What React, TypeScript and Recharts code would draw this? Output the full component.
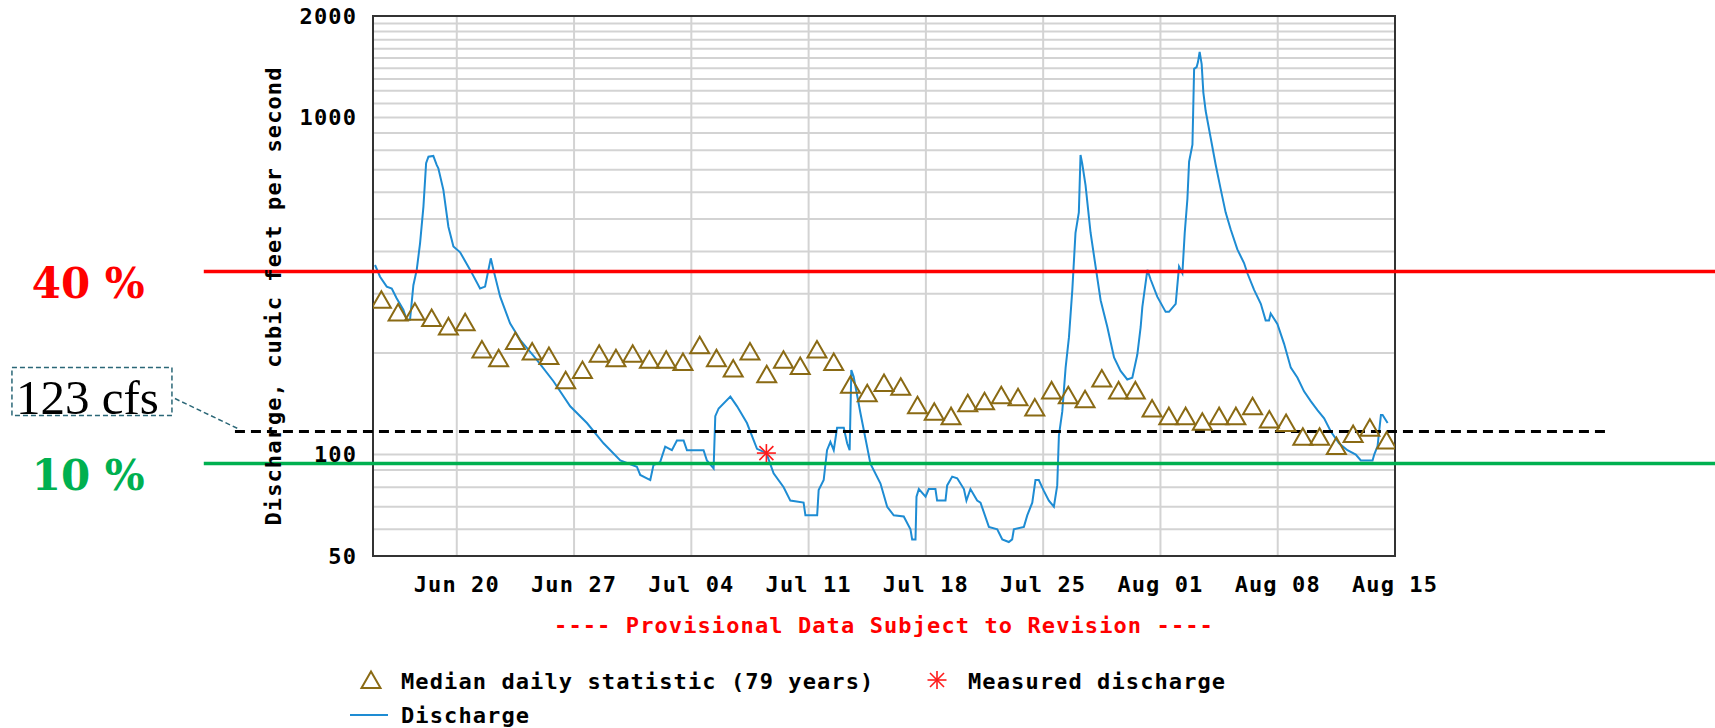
import React from "react";
import {
  ComposedChart,
  Line,
  Scatter,
  XAxis,
  YAxis,
  CartesianGrid,
  ReferenceLine,
  ReferenceArea
} from "recharts";

// x values are days counted from Jun 15, 00:00
const weekTicks = [5, 12, 19, 26, 33, 40, 47, 54, 61];
const weekLabels = ["Jun 20", "Jun 27", "Jul 04", "Jul 11", "Jul 18", "Jul 25", "Aug 01", "Aug 08", "Aug 15"];
const dayTicks = [
  1, 2, 3, 4, 5, 6, 7, 8, 9, 10, 11, 12, 13, 14, 15, 16, 17, 18, 19, 20,
  21, 22, 23, 24, 25, 26, 27, 28, 29, 30, 31, 32, 33, 34, 35, 36, 37, 38, 39, 40,
  41, 42, 43, 44, 45, 46, 47, 48, 49, 50, 51, 52, 53, 54, 55, 56, 57, 58, 59, 60
];

const yTicks = [50, 100, 1000, 2000];
const yGrid = [
  60, 70, 80, 90, 100, 200, 300, 400, 500, 600, 700, 800, 900,
  1000, 1100, 1200, 1300, 1400, 1500, 1600, 1700, 1800, 1900, 2000
];

// median daily statistic, one per day (noon), Jun 15 .. Aug 14
const medianValues = [
  288, 264, 265, 254, 240, 247, 205, 193, 217, 202,
  196, 166, 178, 199, 193, 199, 191, 191, 188, 211,
  193, 180, 202, 173, 191, 183, 205, 188, 161, 152,
  163, 159, 140, 134, 130, 142, 144, 150, 148, 138,
  155, 150, 146, 168, 155, 155, 137, 130, 130, 125,
  130, 130, 139, 127, 124, 113, 113, 106, 115, 120, 110
];

// [day, cfs]
const dischargeValues: [number, number][] = [
  [0.12, 365], [0.42, 337], [0.82, 315], [1.12, 311], [1.41, 291], [1.81, 269],
  [2.01, 251], [2.21, 251], [2.41, 318], [2.61, 353], [2.81, 424], [3.01, 544],
  [3.17, 732], [3.31, 765], [3.6, 769], [3.8, 723], [3.9, 707], [4.2, 610],
  [4.5, 474], [4.8, 414], [5.2, 398], [5.8, 353], [6.39, 311], [6.69, 315],
  [6.89, 353], [7.03, 382], [7.19, 353], [7.59, 294], [8.18, 245], [8.78, 219],
  [9.78, 191], [10.77, 165], [11.77, 139], [12.77, 124], [13.76, 108], [14.76, 96],
  [15.75, 92], [15.95, 87], [16.55, 84], [16.74, 93], [17.14, 95], [17.44, 105.5],
  [17.84, 103], [18.14, 110], [18.54, 110], [18.74, 103], [19.73, 103], [19.93, 96],
  [20.33, 91], [20.43, 130], [20.63, 137], [21.33, 148.5], [21.73, 139], [22.32, 124],
  [22.92, 104], [23.48, 101], [23.91, 88], [24.51, 80], [24.91, 73], [25.7, 72],
  [25.81, 66], [26.51, 66], [26.6, 78.5], [26.9, 84], [27.1, 103], [27.3, 109],
  [27.5, 103], [27.7, 120], [28.1, 120], [28.3, 108], [28.45, 103], [28.55, 178],
  [28.69, 170], [29.09, 133], [29.69, 94], [30.29, 82], [30.69, 70], [31.08, 66],
  [31.68, 65.5], [32.08, 60], [32.18, 56], [32.38, 56], [32.44, 75], [32.58, 79],
  [32.98, 75], [33.17, 79], [33.57, 79], [33.67, 73], [34.17, 73], [34.27, 81],
  [34.57, 86], [34.87, 85], [35.27, 79], [35.42, 73], [35.66, 79], [36.06, 73],
  [36.26, 72], [36.76, 61], [37.26, 60], [37.56, 56], [37.95, 55], [38.15, 56],
  [38.25, 60], [38.85, 61], [39.05, 66], [39.35, 72], [39.54, 84], [39.74, 84],
  [40.04, 78], [40.34, 73], [40.64, 70], [40.84, 81], [40.94, 114], [41.14, 134],
  [41.34, 181], [41.54, 223], [41.74, 308], [41.93, 455], [42.13, 523], [42.23, 774],
  [42.33, 731], [42.53, 629], [42.83, 455], [43.13, 361], [43.43, 287], [43.83, 239],
  [44.23, 194], [44.62, 177], [45.02, 167], [45.32, 169], [45.62, 198], [45.82, 239],
  [45.92, 274], [46.22, 353], [46.42, 330], [46.81, 294], [47.31, 265], [47.51, 265],
  [47.91, 280], [48.11, 361], [48.31, 345], [48.45, 455], [48.61, 574], [48.71, 739],
  [48.91, 830], [49.01, 1394], [49.16, 1411], [49.24, 1460], [49.34, 1565], [49.46, 1440],
  [49.56, 1187], [49.7, 1045], [50.0, 869], [50.3, 723], [50.59, 615], [50.89, 523],
  [51.19, 466], [51.59, 406], [51.99, 370], [52.19, 345], [52.59, 308], [52.99, 280],
  [53.28, 250], [53.48, 250], [53.58, 262], [53.98, 244], [54.38, 213], [54.78, 181],
  [55.18, 169], [55.57, 154], [55.97, 144], [56.37, 135.5], [56.77, 128], [57.17, 117],
  [57.66, 108], [58.16, 103], [58.66, 100], [58.96, 96], [59.66, 96], [59.76, 100],
  [59.96, 106], [60.16, 131], [60.26, 131], [60.56, 124]
];

const measuredValues: [number, number][] = [[23.48, 101]];

const pct40 = 349;
const pct10 = 94;
const cfsMark = 117;

const medianColor = "#8a6a14";
const blue = "#1e8cd3";
const mono = "'DejaVu Sans Mono', monospace";

const medianPoints = medianValues.map((value, i) => ({ day: i + 0.5, value }));
const dischargePoints = dischargeValues.map(([day, value]) => ({ day, value }));
const measuredPoints = measuredValues.map(([day, value]) => ({ day, value }));

const axisText = { fill: "#000", fontSize: 22, fontFamily: mono, fontWeight: "bold", letterSpacing: 1.1 };

const Triangle = ({ cx, cy }: any) => {
  if (cx == null || cy == null) return null;
  return (
    <polygon
      points={`${cx},${cy - 8.5} ${cx - 9.5},${cy + 8} ${cx + 9.5},${cy + 8}`}
      fill="none"
      stroke={medianColor}
      strokeWidth={2}
    />
  );
};

const Star = ({ cx, cy }: any) => {
  if (cx == null || cy == null) return null;
  return (
    <g stroke="#ff1a1a" strokeWidth={1.6}>
      <line x1={cx - 9.5} y1={cy} x2={cx + 9.5} y2={cy} />
      <line x1={cx} y1={cy - 9} x2={cx} y2={cy + 9} />
      <line x1={cx - 7} y1={cy - 7} x2={cx + 7} y2={cy + 7} />
      <line x1={cx - 7} y1={cy + 7} x2={cx + 7} y2={cy - 7} />
    </g>
  );
};

const PctLabel = ({ viewBox, text, color }: any) => {
  if (!viewBox) return null;
  return (
    <text
      x={viewBox.x - 172}
      y={viewBox.y + 26}
      fill={color}
      fontFamily="'DejaVu Serif', serif"
      fontWeight="bold"
      fontSize={42}
    >
      {text}
    </text>
  );
};

const CfsNote = ({ viewBox }: any) => {
  if (!viewBox) return null;
  const x = viewBox.x;
  const y = viewBox.y;
  return (
    <g>
      <rect
        x={x - 223}
        y={y - 64}
        width={160}
        height={48}
        fill="#fff"
        stroke="#2b6777"
        strokeWidth={1.5}
        strokeDasharray="5 3"
      />
      <line x1={x - 60} y1={y - 33} x2={x + 5} y2={y - 2} stroke="#2b6777" strokeWidth={1.5} strokeDasharray="5 3" />
      <text x={x - 219} y={y - 18} fontFamily="'Liberation Serif', serif" fontSize={49} fill="#000">
        123 cfs
      </text>
    </g>
  );
};

export default function App() {
  return (
    <div style={{ position: "relative", width: 1715, height: 728, background: "#fff" }}>
      <style>{"body{margin:0;background:#fff}"}</style>
      <ComposedChart width={1715} height={728} margin={{ top: 16, right: 320, bottom: 0, left: 253 }}>
        <CartesianGrid stroke="#d3d3d3" strokeWidth={2} horizontalValues={yGrid} verticalValues={weekTicks} />
        <XAxis
          dataKey="day"
          type="number"
          domain={[0, 61]}
          allowDataOverflow
          ticks={weekTicks}
          interval={0}
          tickFormatter={(v) => weekLabels[weekTicks.indexOf(v)] ?? ""}
          height={172}
          tickSize={0}
          tickMargin={20}
          tickLine={false}
          axisLine={false}
          tick={axisText}
          label={{
            value: "---- Provisional Data Subject to Revision ----",
            position: "insideTop",
            offset: 61,
            fill: "#ff0000",
            fontSize: 22,
            fontFamily: mono,
            fontWeight: "bold",
            letterSpacing: 1.1
          }}
        />
        <XAxis
          xAxisId="dayBottom"
          type="number"
          domain={[0, 61]}
          allowDataOverflow
          ticks={dayTicks}
          interval={0}
          mirror
          height={0}
          tick={false}
          tickSize={4}
          axisLine={false}
          tickLine={{ stroke: "#222", strokeWidth: 1.5 }}
        />
        <XAxis
          xAxisId="dayTop"
          orientation="top"
          type="number"
          domain={[0, 61]}
          allowDataOverflow
          ticks={dayTicks}
          interval={0}
          mirror
          height={0}
          tick={false}
          tickSize={4}
          axisLine={false}
          tickLine={{ stroke: "#222", strokeWidth: 1.5 }}
        />
        <YAxis
          scale="log"
          type="number"
          domain={[50, 2000]}
          allowDataOverflow
          ticks={yTicks}
          interval={0}
          width={120}
          tickLine={false}
          axisLine={false}
          tickSize={0}
          tickMargin={16}
          tick={axisText}
          label={{
            value: "Discharge, cubic feet per second",
            angle: -90,
            position: "center",
            dx: -40,
            dy: 10,
            fill: "#000",
            fontSize: 22,
            fontFamily: mono,
            fontWeight: "bold",
            letterSpacing: 1.1
          }}
        />
        <ReferenceArea x1={0} x2={61} y1={50} y2={2000} fill="none" stroke="#333" strokeWidth={2} />
        <Line
          data={dischargePoints}
          dataKey="value"
          type="linear"
          stroke={blue}
          strokeWidth={2}
          dot={false}
          isAnimationActive={false}
        />
        <Scatter data={medianPoints} dataKey="value" shape={Triangle} isAnimationActive={false} />
        <Scatter data={measuredPoints} dataKey="value" shape={Star} isAnimationActive={false} />
        <ReferenceLine
          segment={[{ x: -10.1, y: pct40 }, { x: 80.5, y: pct40 }]}
          ifOverflow="visible"
          stroke="#ff0000"
          strokeWidth={3.5}
          label={<PctLabel text="40 %" color="#ff0000" />}
        />
        <ReferenceLine
          segment={[{ x: -10.1, y: pct10 }, { x: 80.5, y: pct10 }]}
          ifOverflow="visible"
          stroke="#00b050"
          strokeWidth={3.5}
          label={<PctLabel text="10 %" color="#00b050" />}
        />
        <ReferenceLine
          segment={[{ x: -8.24, y: cfsMark }, { x: 73.7, y: cfsMark }]}
          ifOverflow="visible"
          stroke="#000"
          strokeWidth={3}
          strokeDasharray="10 6"
          label={<CfsNote />}
        />
      </ComposedChart>
      <svg
        width={1715}
        height={728}
        style={{ position: "absolute", left: 0, top: 0, pointerEvents: "none" }}
      >
        <Triangle cx={371} cy={680} />
        <text x={401} y={689} {...axisText}>Median daily statistic (79 years)</text>
        <Star cx={937} cy={680} />
        <text x={968} y={689} {...axisText}>Measured discharge</text>
        <line x1={350} y1={715} x2={388} y2={715} stroke={blue} strokeWidth={2} />
        <text x={401} y={723} {...axisText}>Discharge</text>
      </svg>
    </div>
  );
}
